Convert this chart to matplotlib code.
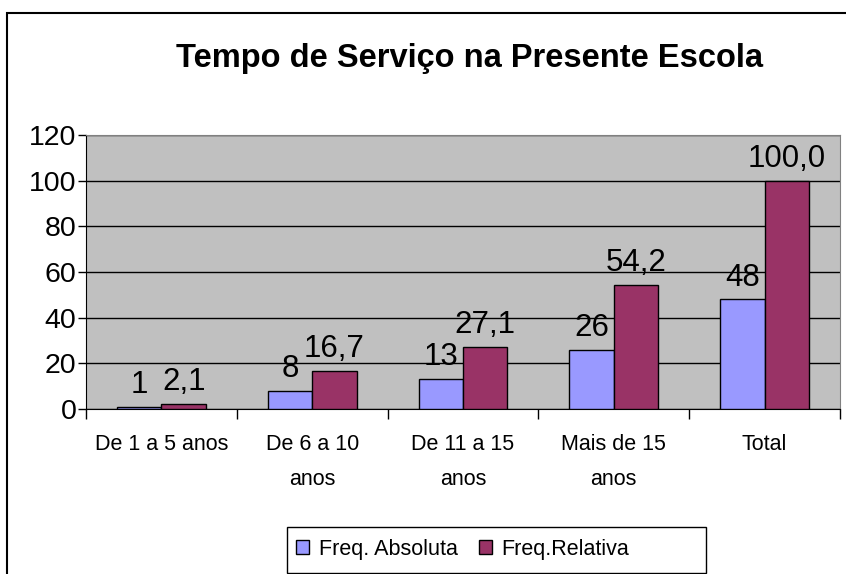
import matplotlib.pyplot as plt
from matplotlib.patches import Rectangle, Patch

categories = ['De 1 a 5 anos', 'De 6 a 10\nanos', 'De 11 a 15\nanos', 'Mais de 15\nanos', 'Total']
freq_absoluta = [1, 8, 13, 26, 48]
freq_relativa = [2.1, 16.7, 27.1, 54.2, 100.0]
y_ticks = [0, 20, 40, 60, 80, 100, 120]

plt.rcParams['font.family'] = ['Liberation Sans', 'DejaVu Sans']

W, H = 846, 574
fig = plt.figure(figsize=(W / 100, H / 100), dpi=100)
fig.patch.set_facecolor('white')

ax = fig.add_axes([86 / W, 1 - 409 / H, (840 - 86) / W, (409 - 135) / H])
ax.set_facecolor('#C0C0C0')

x = list(range(len(categories)))
bw = 0.295
bars1 = ax.bar([i - bw / 2 for i in x], freq_absoluta, bw, color='#9999FF',
               edgecolor='black', linewidth=1, zorder=3)
bars2 = ax.bar([i + bw / 2 for i in x], freq_relativa, bw, color='#993366',
               edgecolor='black', linewidth=1, zorder=3)

for b, v in zip(bars1, freq_absoluta):
    ax.annotate(str(v), (b.get_x() + b.get_width() / 2, b.get_height()),
                xytext=(0, 10), textcoords='offset points', ha='center',
                va='baseline', fontsize=22.5)
for b, v in zip(bars2, freq_relativa):
    ax.annotate(f'{v:.1f}'.replace('.', ','), (b.get_x() + b.get_width() / 2, b.get_height()),
                xytext=(0, 10), textcoords='offset points', ha='center',
                va='baseline', fontsize=22.5)

ax.set_ylim(0, 120)
ax.set_xlim(-0.5, len(categories) - 0.5)
ax.set_yticks(y_ticks)
ax.set_yticklabels([str(t) for t in y_ticks], fontsize=20.5)
ax.tick_params(axis='y', direction='out', length=6, width=1, pad=1)
ax.yaxis.grid(True, color='black', linewidth=1, zorder=1)
ax.set_axisbelow(True)

ax.set_xticks([i - 0.5 for i in range(len(categories) + 1)])
ax.set_xticklabels([])
ax.tick_params(axis='x', which='major', direction='out', length=7, width=1)
ax.set_xticks(x, minor=True)
ax.set_xticklabels(categories, minor=True, fontsize=15.5, linespacing=1.85)
ax.tick_params(axis='x', which='minor', length=0, pad=18)

ax.spines['left'].set_color('black')
ax.spines['bottom'].set_color('black')
ax.spines['top'].set_color('#808080')
ax.spines['right'].set_color('#808080')

fig.text(469 / W, 1 - 58 / H, 'Tempo de Serviço na Presente Escola',
         ha='center', va='center', fontsize=23.5, fontweight='bold')

# outer chart border (cut off at right and bottom)
fig.patches.append(Rectangle((7 / W, -0.1), 1.0, 1 - 13 / H + 0.1, fill=False,
                             edgecolor='black', linewidth=1.5,
                             transform=fig.transFigure, figure=fig))

# legend box
fig.patches.append(Rectangle((287 / W, 1 - 573 / H), (706 - 287) / W, (573 - 527) / H,
                             fill=False, edgecolor='black', linewidth=1,
                             transform=fig.transFigure, figure=fig))
handles = [Patch(facecolor='#9999FF', edgecolor='black'),
           Patch(facecolor='#993366', edgecolor='black')]
fig.legend(handles, ['Freq. Absoluta', 'Freq.Relativa'], loc='center left',
           bbox_to_anchor=(296 / W, 1 - 549 / H), ncol=2, frameon=False,
           fontsize=15.5, handlelength=0.6, handleheight=0.6, handletextpad=0.45,
           columnspacing=1.0, borderpad=0, borderaxespad=0)

plt.savefig('out.png', dpi=100)
